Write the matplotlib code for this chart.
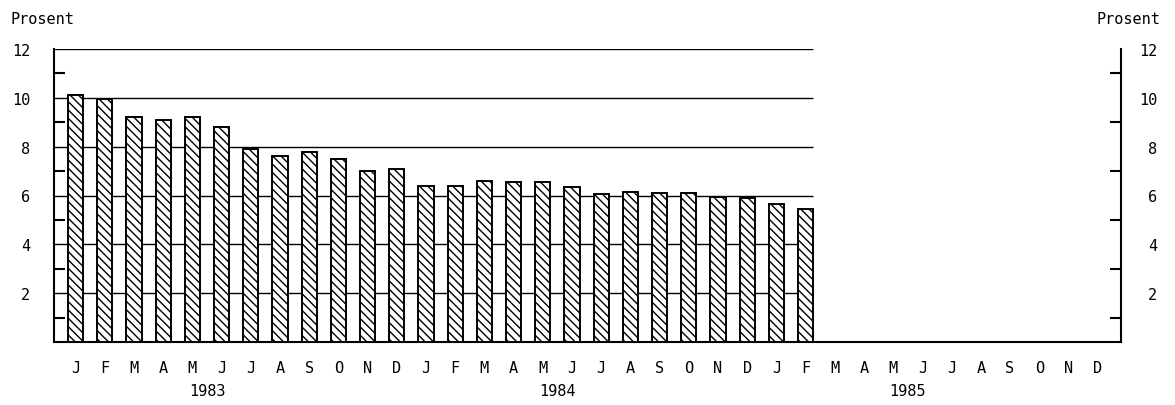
import matplotlib
matplotlib.use("Agg")
import matplotlib.pyplot as plt
from matplotlib.ticker import FixedLocator
import matplotlib.transforms as mtransforms

months = ["J", "F", "M", "A", "M", "J", "J", "A", "S", "O", "N", "D"] * 3
years = ["1983", "1984", "1985"]
values = [10.1, 9.95, 9.2, 9.1, 9.2, 8.8, 7.9, 7.6, 7.8, 7.5, 7.0, 7.1,
          6.4, 6.4, 6.6, 6.55, 6.55, 6.35, 6.05, 6.15, 6.1, 6.1, 5.95, 5.9,
          5.65, 5.45]
y_major = [2, 4, 6, 8, 10, 12]
y_minor = [1, 3, 5, 7, 9, 11]

plt.rcParams['font.family'] = ['DejaVu Sans Mono']
plt.rcParams['hatch.linewidth'] = 1.0

fig = plt.figure(figsize=(11.75, 4.06), dpi=100)
ax = fig.add_axes([54/1175, 1-343/406, (1121-54)/1175, (343-50)/406])

bar_w = 0.52
xs = list(range(len(values)))
ax.bar(xs, values, width=bar_w, facecolor='white', edgecolor='black',
       linewidth=1.4, hatch='\\\\\\\\', zorder=3)

x0, x1 = -0.74, len(months) - 1 + 0.80
ax.set_xlim(x0, x1)
ax.set_ylim(0, 12)

# gridlines only spanning the data period
ax.hlines(y_major, x0, xs[-1] + bar_w / 2, colors='black', linewidth=1.0, zorder=1)

for s in ['left', 'right', 'bottom']:
    ax.spines[s].set_linewidth(1.5)
ax.spines['top'].set_visible(False)

ax.yaxis.set_major_locator(FixedLocator(y_major))
ax.yaxis.set_minor_locator(FixedLocator(y_minor))
ax.set_yticklabels([str(v) for v in y_major])
ax.tick_params(axis='y', which='major', length=0, labelsize=11, pad=17,
               left=True, right=False, labelleft=True, labelright=False)
ax.tick_params(axis='y', which='minor', direction='in', length=8, width=1.5,
               left=True, right=True)

# right-hand labels, right aligned
rtrans = mtransforms.blended_transform_factory(fig.transFigure, ax.transData)
for v in y_major:
    ax.text(1157/1175, v, str(v), transform=rtrans, ha='right',
            va='center_baseline', fontsize=11)

ax.set_xticks(range(len(months)))
ax.set_xticklabels(months)
ax.tick_params(axis='x', which='both', length=0, labelsize=11, pad=13)

trans = mtransforms.blended_transform_factory(ax.transData, ax.transAxes)
for i, yr in enumerate(years):
    ax.text(4.5 + 12 * i, -0.165, yr, transform=trans, ha='center', va='center',
            fontsize=11)

fig.text(10/1175, 1-20/406, "Prosent", ha='left', va='center', fontsize=11)
fig.text(1160/1175, 1-20/406, "Prosent", ha='right', va='center', fontsize=11)

fig.savefig("out.png", dpi=100, facecolor='white')
